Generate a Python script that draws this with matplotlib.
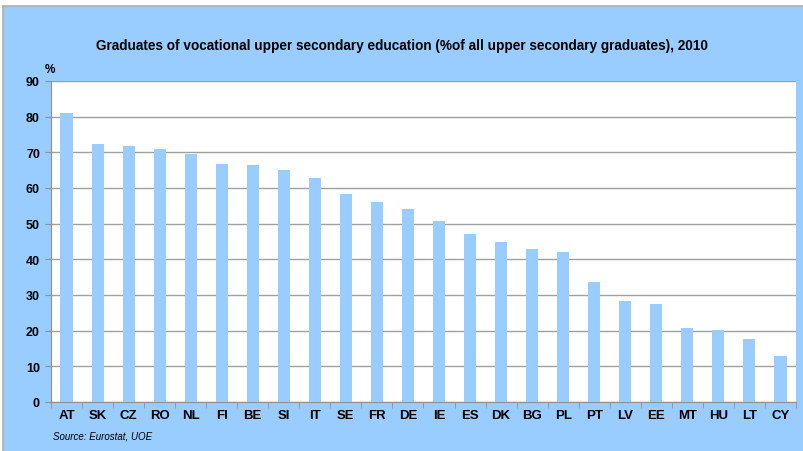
import matplotlib
matplotlib.use("Agg")
import matplotlib.pyplot as plt
from matplotlib.patches import Rectangle
import numpy as np

countries = ["AT", "SK", "CZ", "RO", "NL", "FI", "BE", "SI", "IT", "SE", "FR", "DE",
             "IE", "ES", "DK", "BG", "PL", "PT", "LV", "EE", "MT", "HU", "LT", "CY"]
shares = [81.0, 72.2, 71.7, 70.9, 69.6, 66.6, 66.4, 65.0, 62.9, 58.4, 56.1, 54.2,
          50.7, 47.1, 44.9, 42.9, 42.0, 33.6, 28.3, 27.4, 20.7, 20.3, 17.7, 12.8]
y_ticks = [0, 10, 20, 30, 40, 50, 60, 70, 80, 90]

title = "Graduates of vocational upper secondary education (%of all upper secondary graduates), 2010"
source = "Source: Eurostat, UOE"

W, H = 804, 452
BG = "#99CCFF"
BAR = "#99CCFF"
GRID = "#A0A0A0"

plt.rcParams["font.family"] = ["Liberation Sans", "DejaVu Sans"]

fig = plt.figure(figsize=(W / 100, H / 100), dpi=100)
fig.patch.set_facecolor("white")

# chart-area panel with a thin grey frame on the top and left
panel = Rectangle((3 / W, 0), 1 - 3 / W, 1 - 7 / H, transform=fig.transFigure,
                  facecolor=BG, edgecolor="none", zorder=0)
fig.add_artist(panel)
fig.add_artist(plt.Line2D([3 / W, 1], [1 - 7 / H, 1 - 7 / H], transform=fig.transFigure,
                          color="#B0B0B0", lw=1.2, zorder=1))
fig.add_artist(plt.Line2D([3 / W, 3 / W], [0, 1 - 7 / H], transform=fig.transFigure,
                          color="#B0B0B0", lw=1.2, zorder=1))

left, right, top, bottom = 51, 796, 82, 403
ax = fig.add_axes([left / W, 1 - bottom / H, (right - left) / W, (bottom - top) / H])
ax.set_facecolor("white")

x = np.arange(len(countries))
ax.bar(x, shares, width=0.39, color=BAR, zorder=3)

ax.set_xlim(-0.5, len(countries) - 0.5)
ax.set_ylim(0, 90)
ax.set_yticks(y_ticks)
ax.set_yticklabels([str(v) for v in y_ticks], fontsize=9, fontweight="bold")
ax.yaxis.grid(True, color=GRID, lw=1.0, zorder=1)
ax.set_axisbelow(True)

ax.set_xticks(x)
ax.set_xticklabels(countries, fontsize=9.5, fontweight="bold")
ax.tick_params(axis="x", length=0, pad=5)
ax.set_xticks(np.arange(-0.5, len(countries)), minor=True)
ax.tick_params(axis="x", which="minor", length=4, color="#909090", direction="out")
ax.tick_params(axis="y", length=4, color="#909090", direction="out", pad=4)

for side in ["top", "right"]:
    ax.spines[side].set_visible(False)
ax.spines["left"].set_color("#909090")
ax.spines["bottom"].set_color("#909090")

fig.text(402 / W, 1 - 46 / H, title, ha="center", va="center", fontsize=9.8,
         fontweight="bold", color="black")
fig.text(50 / W, 1 - 70 / H, "%", ha="center", va="center", fontsize=8.5,
         fontweight="bold", color="black")
fig.text(53 / W, 1 - 437 / H, source, ha="left", va="center", fontsize=7,
         style="italic", color="black")

fig.savefig("out.png", dpi=100, facecolor=fig.get_facecolor())
